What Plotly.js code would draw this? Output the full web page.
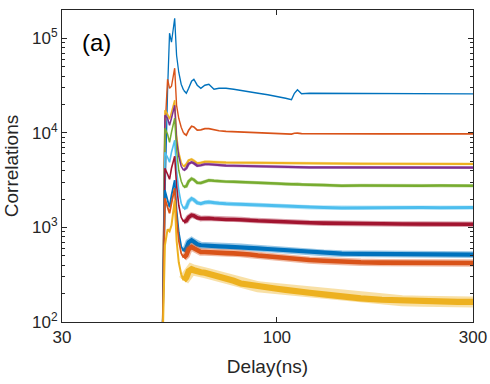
<!DOCTYPE html>
<html>
<head>
<meta charset="utf-8">
<script src="https://cdn.plot.ly/plotly-3.0.1.min.js"></script>
<style>html,body{margin:0;padding:0;background:#fff;}#chart{width:490px;height:384px;}</style>
</head>
<body>
<div id="chart"></div>
<script>
const delay = [52.6, 53.4, 54.2, 54.8, 55.4, 56.4, 57.0, 57.7, 58.5, 59.3, 60.2, 61.0, 62.0, 62.8, 64.0, 65.3, 66.8, 68.3, 70.3, 72.3, 75.2, 78.5, 81.8, 86, 90, 95, 100, 105, 108.5, 110.3, 112.2, 114.8, 120, 130, 143.8, 160, 180, 201.6, 225, 250, 275, 300];

const s1 = [40, 1940, 28300, 113500, 91200, 163600, 66400, 43900, 32800, 28300, 26300, 29700, 35300, 37000, 32000, 29700, 32000, 32800, 29000, 29700, 29700, 29000, 28300, 27300, 26300, 25400, 24500, 23300, 22500, 26300, 28700, 26000, 26300, 26300, 26200, 26300, 26100, 26100, 26000, 26000, 26000, 25900];
const s2 = [40, 10700, 37000, 29700, 31200, 48400, 19600, 14300, 11500, 9930, 9460, 10700, 11800, 11600, 10700, 10800, 11100, 11100, 10800, 10550, 10400, 10300, 10250, 10100, 9980, 9880, 9860, 9810, 9740, 9930, 9980, 9830, 9810, 9790, 9790, 9760, 9790, 9760, 9760, 9760, 9760, 9760];
const s3 = [40, 17400, 15800, 13960, 16560, 22180, 9460, 6250, 4900, 4390, 4665, 5140, 5270, 5080, 4780, 4840, 4960, 4960, 4900, 4900, 4873, 4862, 4862, 4826, 4803, 4779, 4756, 4745, 4733, 4779, 4756, 4733, 4733, 4722, 4722, 4722, 4710, 4710, 4699, 4699, 4699, 4699];
const s4 = [40, 15390, 14300, 12060, 14300, 19640, 8370, 5668, 4442, 4030, 4231, 4722, 4900, 4779, 4498, 4553, 4665, 4665, 4608, 4553, 4519, 4498, 4476, 4442, 4410, 4378, 4357, 4335, 4315, 4357, 4346, 4325, 4315, 4315, 4304, 4304, 4304, 4304, 4304, 4304, 4304, 4304];
const s5 = [40, 11210, 9687, 7973, 10170, 14300, 6562, 4030, 3083, 2683, 2729, 3083, 3292, 3198, 2972, 2958, 3083, 3159, 3121, 3083, 3060, 3045, 3031, 2994, 2965, 2937, 2916, 2887, 2866, 2894, 2880, 2851, 2831, 2810, 2763, 2776, 2763, 2763, 2763, 2776, 2763, 2763];
const s6 = [40, 6250, 5534, 4900, 6250, 8370, 4030, 2476, 1804, 1585, 1636, 1894, 2022, 1964, 1826, 1790, 1848, 1862, 1826, 1804, 1781, 1768, 1760, 1739, 1718, 1697, 1677, 1665, 1652, 1665, 1656, 1644, 1636, 1628, 1608, 1616, 1624, 1616, 1624, 1616, 1624, 1624];
const s7 = [40, 4231, 3656, 3236, 4231, 5668, 2797, 1718, 1282, 1144, 1177, 1282, 1346, 1330, 1266, 1243, 1252, 1252, 1237, 1222, 1216, 1213, 1213, 1192, 1177, 1163, 1149, 1141, 1135, 1141, 1135, 1127, 1121, 1113, 1100, 1100, 1094, 1089, 1086, 1081, 1081, 1081];
const s8 = [40, 2476, 1940, 1636, 2191, 3159, 1521, 890, 632, 560, 602, 697, 732, 706, 664, 648, 648, 648, 640, 632, 628, 625, 622, 613, 602, 592, 584, 574, 567, 571, 564, 554, 549, 540, 530, 527, 523, 520, 518, 517, 517, 517];
const s9 = [40, 2037, 1636, 1413, 1804, 2598, 1252, 732, 533, 478, 508, 588, 622, 602, 567, 550, 550, 550, 547, 540, 536, 532, 530, 517, 505, 493, 484, 474, 469, 469, 464, 457, 452, 444, 431, 428, 425, 423, 421, 421, 421, 421];
const s10 = [40, 648, 957, 912, 1055, 1940, 732, 428, 320, 276, 297, 344, 361, 353, 340, 336, 332, 324, 312, 304, 290, 273, 255, 245, 236, 230, 225, 219, 217, 214, 211, 208, 204, 196, 184, 178, 172, 168, 166, 164, 163, 163];

const series = [s1, s2, s3, s4, s5, s6, s7, s8, s9, s10];
const colors = ['#0072BD', '#D95319', '#EDB120', '#7E2F8E', '#77AC30', '#4DBEEE', '#A2142F', '#0072BD', '#D95319', '#EDB120'];
const peakWidths = [1.3, 1.4, 1.5, 1.5, 1.5, 1.6, 1.6, 1.8, 1.8, 2];
const tailWidths = [1.4, 1.7, 2.0, 2.2, 2.4, 3.0, 3.6, 4.2, 4.6, 6.2];
const haloWidths = [0, 0, 2.8, 3.0, 3.4, 4.4, 5.6, 6.8, 7.4, 11];
const splitIndex = 9;

const xTicks = [30, 100, 300];
const xTickText = ['30', '100', '300'];
const yTicks = [100, 1000, 10000, 100000];
const yTickText = ['10<sup>2</sup>', '10<sup>3</sup>', '10<sup>4</sup>', '10<sup>5</sup>'];
const yMinorTicks = [200, 300, 400, 500, 600, 700, 800, 900, 2000, 3000, 4000, 5000, 6000, 7000, 8000, 9000, 20000, 30000, 40000, 50000, 60000, 70000, 80000, 90000, 200000];

const traces = [];
series.forEach((s, i) => {
  traces.push({
    x: delay.slice(0, splitIndex + 1), y: s.slice(0, splitIndex + 1), type: 'scatter', mode: 'lines',
    line: {color: colors[i], width: peakWidths[i]}, showlegend: false, hoverinfo: 'skip'
  });
  if (haloWidths[i] > 0) {
    traces.push({
      x: delay.slice(splitIndex), y: s.slice(splitIndex), type: 'scatter', mode: 'lines', opacity: 0.4,
      line: {color: colors[i], width: haloWidths[i]}, showlegend: false, hoverinfo: 'skip'
    });
  }
  traces.push({
    x: delay.slice(splitIndex), y: s.slice(splitIndex), type: 'scatter', mode: 'lines',
    line: {color: colors[i], width: tailWidths[i]}, showlegend: false, hoverinfo: 'skip'
  });
});

const axCol = '#262626';
const layout = {
  width: 490, height: 384,
  margin: {l: 62, r: 17, t: 10, b: 62},
  paper_bgcolor: '#fff', plot_bgcolor: '#fff',
  font: {family: 'Liberation Sans, Arial, sans-serif', color: axCol, size: 17},
  xaxis: {
    type: 'log', range: [Math.log10(30), Math.log10(300)],
    tickvals: xTicks, ticktext: xTickText,
    ticks: 'inside', ticklen: 5, tickcolor: axCol, mirror: 'ticks',
    showline: true, linecolor: axCol, linewidth: 1, showgrid: false, zeroline: false,
    tickfont: {size: 17},
    title: {text: 'Delay(ns)', font: {size: 19}, standoff: 13}
  },
  yaxis: {
    type: 'log', range: [2, Math.log10(200000)],
    tickvals: yTicks, ticktext: yTickText,
    ticks: 'inside', ticklen: 5, tickcolor: axCol, mirror: 'ticks',
    showline: true, linecolor: axCol, linewidth: 1, showgrid: false, zeroline: false,
    minor: {tickmode: 'array', tickvals: yMinorTicks, ticks: 'inside', ticklen: 3, tickcolor: axCol, showgrid: false},
    tickfont: {size: 17},
    title: {text: 'Correlations', font: {size: 19}, standoff: 8}
  },
  annotations: [{
    text: '(a)', xref: 'paper', yref: 'paper', x: 0.044, y: 0.897,
    xanchor: 'left', yanchor: 'middle', showarrow: false, font: {size: 24, color: '#000'}
  }]
};

Plotly.newPlot('chart', traces, layout, {staticPlot: true, displayModeBar: false});
</script>
</body>
</html>
